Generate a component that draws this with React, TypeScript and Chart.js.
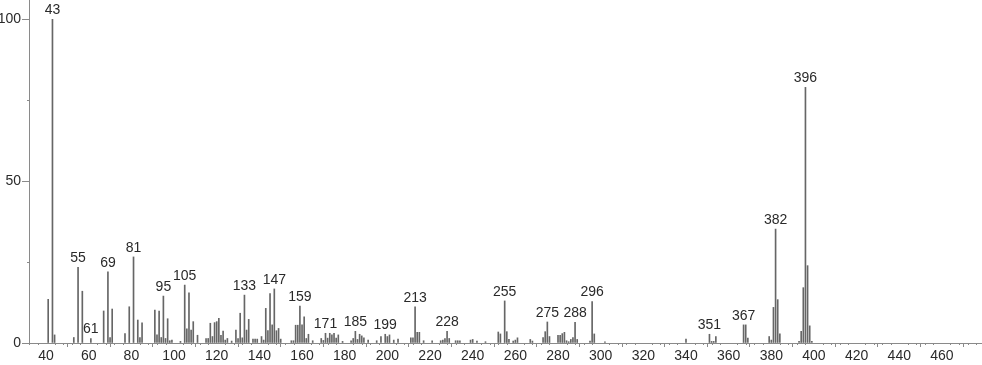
import React, { useEffect, useRef } from "react";
import { Chart, registerables } from "chart.js";

Chart.register(...registerables);

const mzValues = [
  41, 43, 44, 53, 55, 57, 61, 67, 69, 70, 71, 77, 79, 81, 83, 84, 85, 91, 92, 93,
  94, 95, 96, 97, 98, 99, 103, 105, 106, 107, 108, 109, 111, 115, 116, 117, 118, 119, 120, 121,
  122, 123, 124, 125, 127, 129, 130, 131, 132, 133, 134, 135, 137, 138, 139, 141, 142, 143, 144, 145,
  146, 147, 148, 149, 150, 155, 156, 157, 158, 159, 160, 161, 162, 163, 165, 169, 170, 171, 172, 173,
  174, 175, 176, 177, 179, 183, 184, 185, 186, 187, 188, 189, 191, 195, 197, 199, 200, 201, 203, 205,
  211, 212, 213, 214, 215, 217, 221, 225, 226, 227, 228, 229, 232, 233, 234, 239, 240, 242, 246, 252,
  253, 255, 256, 257, 259, 260, 261, 267, 268, 273, 274, 275, 276, 280, 281, 282, 283, 284, 285, 286,
  287, 288, 289, 295, 296, 297, 302, 340, 351, 352, 353, 354, 367, 368, 369, 379, 380, 381, 382, 383,
  384, 393, 394, 395, 396, 397, 398, 399,
];

const intensities = [
  13.5, 100, 2.5, 1.7, 23.4, 16.0, 1.4, 9.9, 22.0, 1.7, 10.5, 2.9, 11.2, 26.6, 7.1, 1.7, 6.2, 10.2, 2.5, 9.9,
  1.7, 14.5, 1.4, 7.5, 0.7, 0.9, 0.5, 17.9, 4.4, 15.5, 4.0, 6.6, 2.4, 1.4, 1.4, 6.1, 2.0, 6.3, 6.6, 7.6,
  2.4, 3.7, 0.9, 1.4, 0.6, 4.0, 1.4, 9.2, 1.6, 14.8, 4.0, 7.3, 1.2, 1.2, 1.2, 2.0, 0.9, 10.7, 3.8, 15.3,
  5.6, 16.7, 3.8, 4.5, 1.2, 0.7, 0.7, 5.5, 5.5, 11.4, 5.6, 8.1, 1.4, 2.7, 0.7, 1.4, 0.8, 3.0, 1.5, 3.0,
  2.5, 3.0, 1.5, 2.5, 0.5, 0.7, 1.4, 3.6, 1.1, 2.7, 2.2, 1.6, 0.9, 0.7, 2.0, 2.7, 2.0, 2.5, 0.9, 1.2,
  1.6, 1.6, 11.2, 3.3, 3.3, 0.7, 0.7, 0.7, 0.9, 1.4, 3.6, 1.4, 0.7, 0.7, 0.7, 0.9, 1.1, 0.6, 0.4, 3.4,
  2.8, 13.0, 3.5, 1.1, 0.6, 0.9, 1.6, 1.1, 0.6, 1.7, 3.5, 6.5, 2.0, 2.4, 2.4, 2.9, 3.3, 0.7, 0.4, 1.1,
  1.7, 6.4, 1.1, 0.6, 12.8, 2.8, 0.4, 1.2, 2.7, 0.5, 0.5, 2.0, 5.6, 5.6, 1.5, 2.0, 0.9, 11.0, 35.2, 13.4,
  2.8, 0.5, 3.6, 17.1, 79.0, 23.9, 5.3, 0.5,
];

const labeledPeaks = [43, 55, 61, 69, 81, 95, 105, 133, 147, 159, 171, 185, 199, 213, 228, 255, 275, 288, 296, 351, 367, 382, 396];

const xMajorTicks = [40, 60, 80, 100, 120, 140, 160, 180, 200, 220, 240, 260, 280, 300, 320, 340, 360, 380, 400, 420, 440, 460];
const yMajorTicks = [0, 50, 100];
const yMinorTicks = [25, 75];
const xMinorStep = 4;

const X_MIN = 32;
const X_MAX = 478.3;
const Y_MAX = 106;

const FONT = "'Liberation Sans', Arial, sans-serif";
const AXIS_COLOR = "#8a8a8a";
const TEXT_COLOR = "#2a2a2a";

const peakLabelPlugin = {
  id: "peakLabels",
  afterDatasetsDraw(chart: any) {
    const { ctx, scales } = chart;
    const xs = scales.x;
    const ys = scales.y;
    ctx.save();
    ctx.font = `14px ${FONT}`;
    ctx.fillStyle = TEXT_COLOR;
    ctx.textAlign = "center";
    ctx.textBaseline = "bottom";
    labeledPeaks.forEach((mz) => {
      const i = mzValues.indexOf(mz);
      if (i < 0) return;
      const px = xs.getPixelForValue(mz);
      const py = ys.getPixelForValue(intensities[i]);
      ctx.fillText(String(mz), px, py - 2);
    });
    ctx.restore();
  },
};

const minorTickPlugin = {
  id: "minorTicks",
  afterDraw(chart: any) {
    const { ctx, scales, chartArea } = chart;
    const xs = scales.x;
    const ys = scales.y;
    ctx.save();
    ctx.strokeStyle = AXIS_COLOR;
    ctx.lineWidth = 1;
    ctx.beginPath();
    const start = Math.ceil(X_MIN / xMinorStep) * xMinorStep;
    for (let v = start; v <= X_MAX; v += xMinorStep) {
      if (xMajorTicks.includes(v)) continue;
      const px = Math.round(xs.getPixelForValue(v)) + 0.5;
      ctx.moveTo(px, chartArea.bottom);
      ctx.lineTo(px, chartArea.bottom + 2);
    }
    yMinorTicks.forEach((v) => {
      const py = Math.round(ys.getPixelForValue(v)) + 0.5;
      ctx.moveTo(chartArea.left - 2, py);
      ctx.lineTo(chartArea.left, py);
    });
    ctx.stroke();
    ctx.restore();
  },
};

export default function App() {
  const canvasRef = useRef<HTMLCanvasElement | null>(null);

  useEffect(() => {
    document.body.style.margin = "0";
    const canvas = canvasRef.current;
    if (!canvas) return;
    const data = mzValues.map((m, i) => ({ x: m, y: intensities[i] }));
    const chart = new Chart(canvas, {
      type: "bar",
      data: {
        datasets: [
          {
            data,
            backgroundColor: "#666666",
            borderWidth: 0,
            barThickness: 1,
          } as any,
        ],
      },
      plugins: [peakLabelPlugin, minorTickPlugin],
      options: {
        animation: false,
        responsive: false,
        devicePixelRatio: 1,
        layout: { padding: { left: 0, right: 1, top: 0, bottom: 0 } },
        plugins: {
          legend: { display: false },
          tooltip: { enabled: false },
        },
        scales: {
          x: {
            type: "linear",
            min: X_MIN,
            max: X_MAX,
            offset: false,
            afterBuildTicks: (s: any) => {
              s.ticks = xMajorTicks.map((v) => ({ value: v }));
            },
            afterFit: (s: any) => {
              s.height = 22;
              s.paddingLeft = 0;
              s.paddingRight = 0;
            },
            grid: {
              display: true,
              drawOnChartArea: false,
              drawTicks: true,
              tickLength: 4,
              color: AXIS_COLOR,
            },
            border: { display: true, color: AXIS_COLOR, width: 1 },
            ticks: {
              autoSkip: false,
              maxRotation: 0,
              padding: 1,
              color: TEXT_COLOR,
              font: { family: FONT, size: 14 },
              callback: (v: any) => String(v),
            },
          },
          y: {
            type: "linear",
            min: 0,
            max: Y_MAX,
            afterBuildTicks: (s: any) => {
              s.ticks = yMajorTicks.map((v) => ({ value: v }));
            },
            afterFit: (s: any) => {
              s.width = 29;
              s.paddingTop = 0;
              s.paddingBottom = 0;
            },
            grid: {
              display: true,
              drawOnChartArea: false,
              drawTicks: true,
              tickLength: 7,
              color: AXIS_COLOR,
            },
            border: { display: true, color: AXIS_COLOR, width: 1 },
            ticks: {
              padding: 1,
              color: TEXT_COLOR,
              font: { family: FONT, size: 14 },
              callback: (v: any) => String(v),
            },
          },
        },
      },
    });
    return () => chart.destroy();
  }, []);

  return (
    <div style={{ width: 982, height: 365, background: "#fff" }}>
      <canvas ref={canvasRef} width={982} height={365} style={{ display: "block" }} />
    </div>
  );
}
